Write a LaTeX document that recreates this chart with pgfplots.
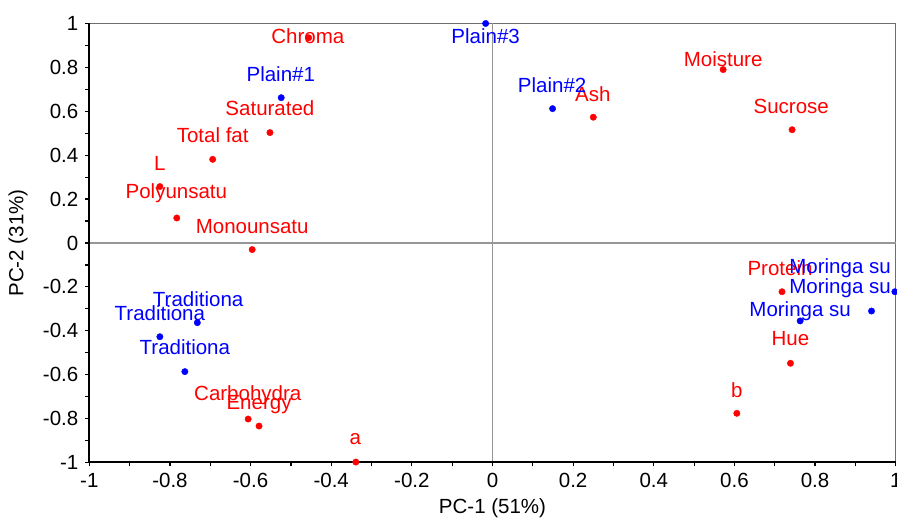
\documentclass[border=0pt]{standalone}
\usepackage{pgfplots}
\pgfplotsset{compat=1.18}
\usepackage{pgfplotstable}
\usepackage{fontspec}
\setmainfont{Liberation Sans}
\definecolor{zgray}{RGB}{150,150,150}
\definecolor{fgray}{RGB}{110,110,110}

% loadings (red)
\pgfplotstableread{
x y
-0.456 0.935
-0.552 0.503
-0.694 0.381
-0.825 0.257
-0.783 0.114
-0.596 -0.030
0.250 0.573
0.572 0.790
0.743 0.516
-0.606 -0.802
-0.579 -0.834
-0.339 -0.998
0.718 -0.222
0.739 -0.548
0.606 -0.776
}\loadings
\pgfplotstableread{
lx ly label
-0.458 0.94 Chroma
-0.552 0.614 Saturated
-0.694 0.492 {Total fat}
-0.825 0.363 L
-0.784 0.229 Polyunsatu
-0.596 0.077 Monounsatu
0.249 0.679 Ash
0.572 0.837 Moisture
0.741 0.624 Sucrose
-0.607 -0.692 Carbohydra
-0.579 -0.735 Energy
-0.340 -0.895 a
0.713 -0.114 Protein
0.739 -0.437 Hue
0.606 -0.670 b
}\loadlabels
% scores (blue)
\pgfplotstableread{
x y
-0.524 0.662
-0.017 1.000
0.149 0.612
-0.732 -0.363
-0.825 -0.427
-0.763 -0.586
0.998 -0.222
0.940 -0.310
0.763 -0.355
}\scores
\pgfplotstableread{
lx ly label
-0.525 0.770 Plain\#1
-0.017 0.943 Plain\#3
0.148 0.720 Plain\#2
-0.730 -0.256 Traditiona
-0.825 -0.320 Traditiona
-0.763 -0.475 Traditiona
0.862 -0.115 {Moringa su}
0.862 -0.204 {Moringa su}
0.763 -0.310 {Moringa su}
}\scorelabels

\begin{document}
\fontsize{20.5}{24}\selectfont
\begin{tikzpicture}
\begin{axis}[
  at={(0,0)}, anchor=south west,
  scale only axis,
  width=806.4pt, height=439pt,
  xmin=-1, xmax=1, ymin=-1, ymax=1,
  xtick={-1,-0.8,...,1.01},
  ytick={-1,-0.8,...,1.01},
  minor tick num=1,
  tick align=outside,
  tickpos=left,
  major tick length=4pt,
  minor tick length=4pt,
  every tick/.style={black, line width=1.2pt},
  axis line style={fgray, line width=1pt},
  /pgf/number format/assume math mode=true,
  /pgf/number format/fixed,
  /pgf/number format/precision=1,
  tick label style={font=\fontsize{20.5}{24}\selectfont, black},
  xlabel={PC-1 (51\%)},
  ylabel={PC-2 (31\%)},
  label style={font=\fontsize{20.5}{24}\selectfont},
  xlabel style={at={(axis description cs:0.5,-0.1036)}, anchor=center},
  ylabel style={at={(axis description cs:-0.0884,0.5)}, anchor=center},
  clip=false,
]
\draw[zgray, line width=1.2pt] (axis cs:0,-1) -- (axis cs:0,1);
\draw[zgray, line width=1.2pt] (axis cs:-1,0) -- (axis cs:1,0);
\draw[black, line width=2pt] (rel axis cs:0,1) -- (rel axis cs:0,0) -- (rel axis cs:1,0);

\addplot[only marks, mark=*, mark size=3.2pt, color=red] table[x=x,y=y] {\loadings};
\addplot[only marks, mark=*, mark size=3.2pt, color=blue] table[x=x,y=y] {\scores};

\addplot[only marks, mark=none, point meta=explicit symbolic,
  nodes near coords,
  every node near coord/.append style={anchor=center, text=red, inner sep=0pt, font=\fontsize{20.5}{24}\selectfont}]
  table[x=lx,y=ly,meta=label] {\loadlabels};
\addplot[only marks, mark=none, point meta=explicit symbolic,
  nodes near coords,
  every node near coord/.append style={anchor=center, text=blue, inner sep=0pt, font=\fontsize{20.5}{24}\selectfont}]
  table[x=lx,y=ly,meta=label] {\scorelabels};
\end{axis}
\pgfresetboundingbox
\useasboundingbox (-89.3pt,-58.5pt) rectangle (807.7pt,462.5pt);
\end{tikzpicture}
\end{document}
